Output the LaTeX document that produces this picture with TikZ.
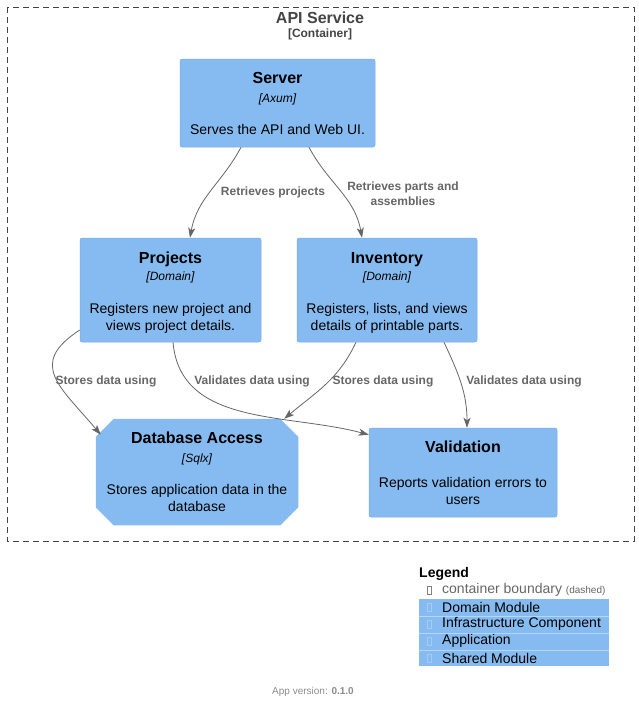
\documentclass[tikz,border=0pt]{standalone}
\usepackage{fontspec}
\setmainfont{Liberation Sans}
\usetikzlibrary{arrows.meta,backgrounds}
\definecolor{boxblue}{HTML}{85BBF0}
\definecolor{boxline}{HTML}{7AAEE6}
\definecolor{relgray}{HTML}{666666}
\definecolor{bndgray}{HTML}{444444}
\tikzset{
  part/.style={fill=boxblue,draw=boxline,line width=0.5pt,rounded corners=2pt,
    align=center,inner sep=0pt,font=\fontsize{14}{17}\selectfont},
  rel/.style={draw=relgray,line width=0.8pt,-{Stealth[length=10pt,width=7pt,inset=2.5pt]}},
  rellabel/.style={text=relgray,font=\fontsize{12}{15}\selectfont\bfseries,align=center},
  lgdrow/.style={anchor=west,inner sep=0pt,font=\fontsize{14}{16}\selectfont},
}
\newcommand{\ttl}[1]{{\fontsize{16}{17}\selectfont\bfseries #1}}
\newcommand{\tech}[1]{{\fontsize{12}{17}\selectfont\itshape [#1]}}

\begin{document}
\begin{tikzpicture}[x=1pt,y=-1pt]
  \useasboundingbox (0,0) rectangle (639,705);

  % container boundary
  \draw[bndgray,dash pattern=on 6pt off 4pt,line width=0.8pt] (7,7) rectangle (634,541);
  \node[text=bndgray,font=\fontsize{16}{18}\selectfont\bfseries] (cnt) at (320,18) {API Service};
  \node[text=bndgray,font=\fontsize{12}{14}\selectfont\bfseries] (cnttype) at (320,34) {[Container]};

  % components
  \node[part,minimum width=195pt,minimum height=88pt] (srv) at (277.5,103)
    {\ttl{Server}\\[2pt]\tech{Axum}\\[15pt]Serves the API and Web UI.};
  \node[part,minimum width=181pt,minimum height=104pt] (proj) at (170.5,290)
    {\rule{0pt}{17.5pt}\ttl{Projects}\\[0pt]\tech{Domain}\\[16pt]Registers new project and\\views project details.};
  \node[part,minimum width=180pt,minimum height=104pt] (inv) at (387,290)
    {\rule{0pt}{17.5pt}\ttl{Inventory}\\[0pt]\tech{Domain}\\[16pt]Registers, lists, and views\\details of printable parts.};
  \node[part,minimum width=188pt,minimum height=89pt] (val) at (463,472.5)
    {\ttl{Validation}\\[18pt]Reports validation errors to\\users};
  \node[part,draw=none,fill=none,minimum width=202pt,minimum height=106pt] (db) at (197,472)
    {\ttl{Database Access}\\[2pt]\tech{Sqlx}\\[15pt]Stores application data in the\\database};
  % octagon behind database access
  \begin{scope}[on background layer]
    \fill[white] (0,0) rectangle (639,705);
    \fill[boxblue] ([xshift=18pt]db.north west) -- ([xshift=-18pt]db.north east)
      -- ([yshift=-18pt]db.north east) -- ([yshift=18pt]db.south east)
      -- ([xshift=-18pt]db.south east) -- ([xshift=18pt]db.south west)
      -- ([yshift=18pt]db.south west) -- ([yshift=-18pt]db.north west) -- cycle;
  \end{scope}

  % relations
  \draw[rel] ([xshift=-36.5pt]srv.south) to[out=-118,in=80] ([xshift=19.5pt]proj.north);
  \draw[rel] ([xshift=31.5pt]srv.south) to[out=-62,in=100] ([xshift=-25pt]inv.north);
  \draw[rel] ([yshift=-40pt]proj.west) to[out=213,in=130,looseness=1.5] ([xshift=5pt,yshift=-16pt]db.north west);
  \draw[rel] ([xshift=2.5pt]proj.south) to[out=-85,in=165] ([yshift=-7pt]val.north west);
  \draw[rel] ([xshift=-31pt]inv.south) to[out=-115,in=40] ([xshift=-14pt]db.north east);
  \draw[rel] ([xshift=57pt]inv.south) to[out=-65,in=90] ([xshift=4pt]val.north);

  \node[rellabel] (lbla) at (273,192) {Retrieves projects};
  \node[rellabel] (lblb) at (403,193.5) {Retrieves parts and\\assemblies};
  \node[rellabel] (lblc) at (106,381) {Stores data using};
  \node[rellabel] (lbld) at (252,381) {Validates data using};
  \node[rellabel] (lble) at (383,381) {Stores data using};
  \node[rellabel] (lblf) at (524,381) {Validates data using};

  % legend
  \node[lgdrow,font=\fontsize{14}{16}\selectfont\bfseries] (lgd) at (419,574) {Legend};
  \node[lgdrow,text=relgray] (lgdbnd) at (442,590)
    {container boundary {\fontsize{10}{12}\selectfont(dashed)}};
  \fill[boxblue] (419,599) rectangle (609,666);
  \foreach \y in {616,633,650} {
    \draw[white!40!boxblue,line width=0.5pt] (419,\y) -- (609,\y);
  }
  \draw[gray,line width=0.5pt] (427,586) rectangle (431,594);
  \foreach \t [count=\i] in {Domain Module,Infrastructure Component,Application,Shared Module} {
    \draw[white!25!boxblue,line width=0.5pt] (427,586+17*\i) rectangle (431,594+17*\i);
    \node[lgdrow] (lgd\i) at (442,590+17*\i) {\t};
  }

  % version
  \node[text=gray!90,font=\fontsize{10}{12}\selectfont] (ver) at (313,692)
    {App version: \textbf{0.1.0}};
\end{tikzpicture}
\end{document}
